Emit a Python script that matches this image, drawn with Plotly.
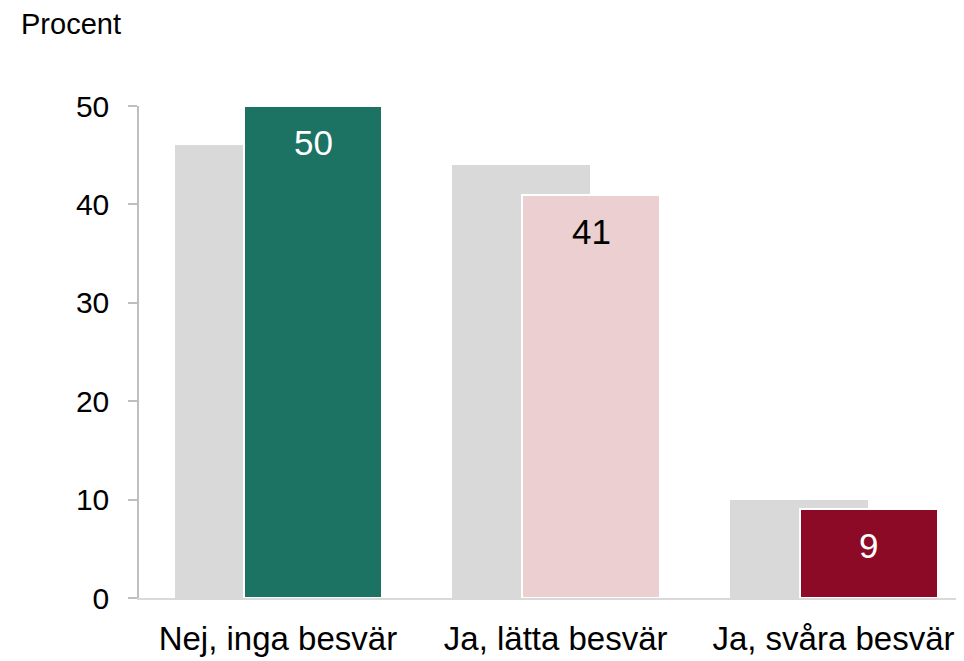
import plotly.graph_objects as go

categories = ["Nej, inga besvär", "Ja, lätta besvär", "Ja, svåra besvär"]
previous_values = [46, 44, 10]
current_values = [50, 41, 9]
bar_colors = ["#1c7263", "#ecd0d1", "#8c0a25"]
label_colors = ["white", "black", "white"]
y_ticks = [0, 10, 20, 30, 40, 50]

FONT = "Liberation Sans, Arial, sans-serif"
x = list(range(len(categories)))

fig = go.Figure()
fig.add_trace(go.Bar(
    x=x, y=previous_values, width=0.496, offset=-0.372,
    marker=dict(color="#d9d9d9", line=dict(width=0)),
    hoverinfo="skip", showlegend=False,
))
fig.add_trace(go.Bar(
    x=x, y=current_values, width=0.496, offset=-0.1205,
    marker=dict(color=bar_colors, line=dict(color="white", width=2)),
    showlegend=False,
))

for xi, v, c in zip(x, current_values, label_colors):
    fig.add_annotation(x=xi + 0.1275, y=v, text=str(v), showarrow=False,
                       yanchor="top", yshift=-15,
                       font=dict(family=FONT, size=35, color=c))

fig.add_annotation(xref="paper", yref="paper", x=0, y=1, xanchor="left", yanchor="bottom",
                   xshift=-120, yshift=64, text="Procent", showarrow=False,
                   font=dict(family=FONT, size=29, color="black"))

fig.update_layout(
    width=956, height=653,
    margin=dict(l=131, r=0, t=98, b=63),
    plot_bgcolor="white", paper_bgcolor="white",
    barmode="overlay", bargap=0,
    font=dict(family=FONT, size=30, color="black"),
    xaxis=dict(range=[-0.5, 2.47], tickvals=x, ticktext=categories,
               showgrid=False, zeroline=False, showline=True, linecolor="#d9d9d9",
               linewidth=2, ticks="", ticklabelstandoff=10,
               tickfont=dict(family=FONT, size=33)),
    yaxis=dict(range=[0, 50], tickvals=y_ticks, showgrid=False, zeroline=False,
               showline=True, linecolor="#bfbfbf", linewidth=1.5,
               ticks="outside", ticklen=9, tickcolor="#bfbfbf", tickwidth=1.5,
               ticklabelstandoff=13, tickfont=dict(family=FONT, size=30)),
)

fig.write_html("out.html")
